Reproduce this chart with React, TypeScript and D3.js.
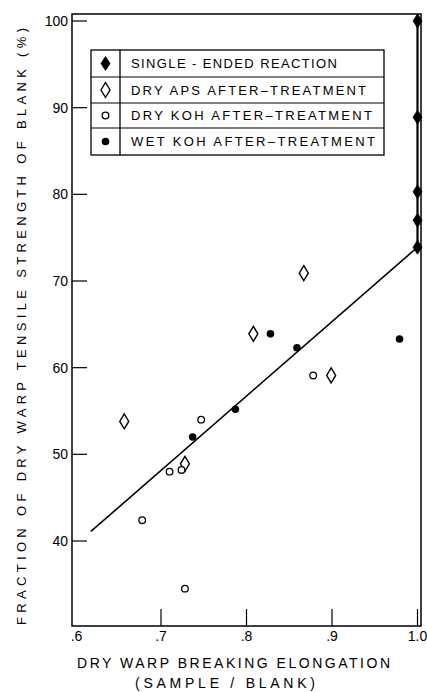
import React from "react";
import * as d3 from "d3";

// ---- data ----
const xTicks = [0.6, 0.7, 0.8, 0.9, 1.0];
const xTickLabels = [".6", ".7", ".8", ".9", "1.0"];
const yTicks = [40, 50, 60, 70, 80, 90, 100];
const yTickLabels = ["40", "50", "60", "70", "80", "90", "100"];

const singleEndedX = [1.0, 1.0, 1.0, 1.0, 1.0];
const singleEndedY = [100, 88.9, 80.3, 77.0, 73.9];

const dryApsX = [0.657, 0.728, 0.808, 0.867, 0.899];
const dryApsY = [53.8, 48.9, 63.9, 70.9, 59.1];

const dryKohX = [0.678, 0.71, 0.724, 0.728, 0.747, 0.878];
const dryKohY = [42.4, 48.0, 48.2, 34.5, 54.0, 59.1];

const wetKohX = [0.737, 0.787, 0.828, 0.859, 0.979];
const wetKohY = [52.0, 55.2, 63.9, 62.3, 63.3];

const fitX = [0.618, 1.0];
const fitY = [41.1, 73.9];

const legendLabels = [
  "SINGLE - ENDED REACTION",
  "DRY APS AFTER\u2013TREATMENT",
  "DRY KOH AFTER\u2013TREATMENT",
  "WET KOH AFTER\u2013TREATMENT",
];

const xTitle1 = "DRY WARP BREAKING ELONGATION";
const xTitle2 = "(SAMPLE / BLANK)";
const yTitle = "FRACTION OF DRY WARP TENSILE STRENGTH OF BLANK (%)";

// ---- layout ----
const W = 427;
const H = 692;
const frame = { left: 72, right: 421, top: 14, bottom: 626 };
const FONT = "'Liberation Sans', Arial, sans-serif";

const x = d3.scaleLinear().domain([0.6, 1.0]).range([75.5, 417.5]);
const y = d3.scaleLinear().domain([40, 100]).range([541, 21]);

const zip = (xs: number[], ys: number[]) => xs.map((v, i) => [v, ys[i]] as [number, number]);

const diamondPath = (cx: number, cy: number, w: number, h: number) =>
  `M${cx},${cy - h / 2}L${cx + w / 2},${cy}L${cx},${cy + h / 2}L${cx - w / 2},${cy}Z`;

function FilledDiamond({ cx, cy }: { cx: number; cy: number }) {
  return <path d={diamondPath(cx, cy, 9, 14)} fill="#000" stroke="#000" strokeWidth={0.8} />;
}
function OpenDiamond({ cx, cy }: { cx: number; cy: number }) {
  return <path d={diamondPath(cx, cy, 9, 15)} fill="#fff" stroke="#000" strokeWidth={1.4} />;
}
function OpenCircle({ cx, cy }: { cx: number; cy: number }) {
  return <circle cx={cx} cy={cy} r={3.3} fill="#fff" stroke="#000" strokeWidth={1.3} />;
}
function FilledCircle({ cx, cy }: { cx: number; cy: number }) {
  return <circle cx={cx} cy={cy} r={3.8} fill="#000" />;
}

export default function App() {
  const line = d3.line<[number, number]>().x((d) => x(d[0])).y((d) => y(d[1]));
  const single = zip(singleEndedX, singleEndedY);
  const dryAps = zip(dryApsX, dryApsY);
  const dryKoh = zip(dryKohX, dryKohY);
  const wetKoh = zip(wetKohX, wetKohY);
  const fit = zip(fitX, fitY);

  const leg = { x0: 91, x1: 384, sep: 120, rows: [50, 77, 103, 128, 155] };
  const legendWidths = [206, 235, 241, 244];
  const markers = [FilledDiamond, OpenDiamond, OpenCircle, FilledCircle];

  return (
    <svg
      width={W}
      height={H}
      style={{ position: "absolute", left: 0, top: 0, background: "#fff" }}
      fontFamily={FONT}
    >
      <rect x={0} y={0} width={W} height={H} fill="#fff" />
      {/* frame */}
      <rect
        x={frame.left}
        y={frame.top}
        width={frame.right - frame.left}
        height={frame.bottom - frame.top}
        fill="none"
        stroke="#000"
        strokeWidth={1.5}
      />
      {/* y ticks */}
      {yTicks.map((t, i) => (
        <g key={"yt" + t}>
          <line x1={frame.left} x2={frame.left + 15} y1={y(t)} y2={y(t)} stroke="#000" strokeWidth={1.2} />
          <text x={frame.left - 4} y={y(t) + 5} textAnchor="end" fontSize={14} fill="#000">
            {yTickLabels[i]}
          </text>
        </g>
      ))}
      {/* x ticks */}
      {xTicks.map((t, i) => (
        <g key={"xt" + t}>
          {i > 0 && (
            <line x1={x(t)} x2={x(t)} y1={frame.bottom} y2={frame.bottom - 17} stroke="#000" strokeWidth={1.2} />
          )}
          <text x={x(t) + (i === 0 ? 1 : 0)} y={641} textAnchor="middle" fontSize={14} fill="#000">
            {xTickLabels[i]}
          </text>
        </g>
      ))}

      {/* regression line */}
      <path d={line(fit) || ""} fill="none" stroke="#000" strokeWidth={1.6} />
      {/* single-ended vertical connection */}
      <path d={line(single) || ""} fill="none" stroke="#000" strokeWidth={2.2} />

      {single.map(([a, b], i) => (
        <FilledDiamond key={"s" + i} cx={x(a)} cy={y(b)} />
      ))}
      {dryAps.map(([a, b], i) => (
        <OpenDiamond key={"a" + i} cx={x(a)} cy={y(b)} />
      ))}
      {dryKoh.map(([a, b], i) => (
        <OpenCircle key={"k" + i} cx={x(a)} cy={y(b)} />
      ))}
      {wetKoh.map(([a, b], i) => (
        <FilledCircle key={"w" + i} cx={x(a)} cy={y(b)} />
      ))}

      {/* legend */}
      <g>
        <rect
          x={leg.x0}
          y={leg.rows[0]}
          width={leg.x1 - leg.x0}
          height={leg.rows[4] - leg.rows[0]}
          fill="#fff"
          stroke="#000"
          strokeWidth={1.3}
        />
        <line x1={leg.sep} x2={leg.sep} y1={leg.rows[0]} y2={leg.rows[4]} stroke="#000" strokeWidth={1.3} />
        {leg.rows.slice(1, 4).map((r) => (
          <line key={"lr" + r} x1={leg.x0} x2={leg.x1} y1={r} y2={r} stroke="#000" strokeWidth={1.2} />
        ))}
        {legendLabels.map((lab, i) => {
          const cy = (leg.rows[i] + leg.rows[i + 1]) / 2;
          const M = markers[i];
          return (
            <g key={"lg" + i}>
              <M cx={(leg.x0 + leg.sep) / 2} cy={cy} />
              <text
                x={131}
                y={cy + 4.6}
                fontSize={13}
                textLength={legendWidths[i]}
                lengthAdjust="spacing"
                fill="#000"
              >
                {lab}
              </text>
            </g>
          );
        })}
      </g>

      {/* axis titles */}
      <text x={77} y={668} fontSize={14} textLength={313} lengthAdjust="spacing" fill="#000">
        {xTitle1}
      </text>
      <text x={135} y={688} fontSize={14} textLength={180} lengthAdjust="spacing" fill="#000">
        {xTitle2}
      </text>
      <text
        transform={`translate(26,625) rotate(-90)`}
        x={0}
        y={0}
        fontSize={13}
        textLength={597}
        lengthAdjust="spacing"
        fill="#000"
      >
        {yTitle}
      </text>
    </svg>
  );
}
